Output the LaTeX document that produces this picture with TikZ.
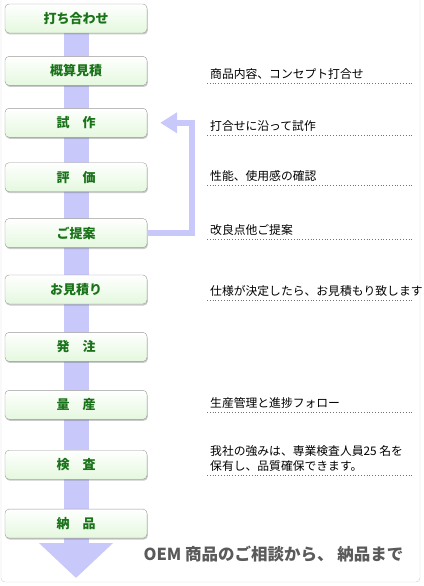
\documentclass[tikz,border=0pt]{standalone}
\usepackage{fontspec}
\newfontfamily\jp{Noto Sans CJK JP}
\usetikzlibrary{arrows.meta, positioning, shadows, backgrounds}

\definecolor{boxgreen}{RGB}{25,115,25}
\definecolor{boxfoot}{RGB}{228,248,222}
\definecolor{flowblue}{RGB}{200,200,250}
\definecolor{framegray}{RGB}{205,205,205}
\definecolor{titlegray}{RGB}{90,90,90}

\begin{document}
\begin{tikzpicture}[
    x=1pt, y=1pt,
    node distance=25pt,
    box/.style={rectangle, draw=black!40, rounded corners=4pt, minimum width=142pt, minimum height=29pt,
        top color=white, middle color=white, bottom color=boxfoot, text=boxgreen,
        font=\jp\bfseries\fontsize{13}{15}\selectfont,
        drop shadow={shadow xshift=0.8pt, shadow yshift=-1.5pt, opacity=0.35, fill=black!60}},
    note/.style={anchor=south west, inner xsep=3pt, inner ysep=3pt, align=left,
        font=\jp\fontsize{11.8}{15}\selectfont},
    dotline/.style={draw=black!55, dotted, line width=0.8pt},
    flow/.style={draw=flowblue, line width=25pt, -{Triangle[length=35pt, width=72pt]}},
    back/.style={draw=flowblue, line width=5.5pt, -{Triangle[length=17pt, width=20pt]}}
]
    \useasboundingbox (0,0) rectangle (423,-586);
    \draw[framegray, rounded corners=4pt] (1,0) -- (1,-582) -- (420,-582) -- (420,0);

    % flow of steps
    \node [box] at (76,-18.5) (uchiawase) {打ち合わせ};
    \node [box, below=23pt of uchiawase] (gaisan) {概算見積};
    \node [box, below=22.5pt of gaisan] (shisaku) {試　作};
    \node [box, below=25pt of shisaku] (hyouka) {評　価};
    \node [box, below=26.5pt of hyouka] (teian) {ご提案};
    \node [box, below=27pt of teian] (mitsumori) {お見積り};
    \node [box, below=28pt of mitsumori] (hacchu) {発　注};
    \node [box, below=28.5pt of hacchu] (ryousan) {量　産};
    \node [box, below=30.5pt of ryousan] (kensa) {検　査};
    \node [box, below=29.5pt of kensa] (nouhin) {納　品};
    \coordinate (goal) at (76,-578);

    \begin{scope}[on background layer]
        \path [flow] (uchiawase.center) -- (goal);
    \end{scope}
    \path [back] (teian.east) -| ([xshift=45pt]shisaku.east) -- ([xshift=13pt]shisaku.east);

    % notes on the right
    \node [note] at (207,-83) (n1) {商品内容、コンセプト打合せ};
    \node [note] at (207,-135) (n2) {打合せに沿って試作};
    \node [note] at (207,-185) (n3) {性能、使用感の確認};
    \node [note] at (207,-239) (n4) {改良点他ご提案};
    \node [note] at (207,-300) (n5) {仕様が決定したら、お見積もり致します};
    \node [note] at (207,-412) (n6) {生産管理と進捗フォロー};
    \node [note] at (207,-475) (n7) {我社の強みは、専業検査人員25 名を\\保有し、品質確保できます。};
    \path [dotline] (n1.south west) -- ++(206,0);
    \path [dotline] (n2.south west) -- ++(206,0);
    \path [dotline] (n3.south west) -- ++(206,0);
    \path [dotline] (n4.south west) -- ++(206,0);
    \path [dotline] (n5.south west) -- ++(206,0);
    \path [dotline] (n6.south west) -- ++(206,0);
    \path [dotline] (n7.south west) -- ++(206,0);

    \node [anchor=west, text=titlegray, font=\jp\bfseries\fontsize{16.5}{19}\selectfont] at (140,-554) (title) {OEM 商品のご相談から、 納品まで};
\end{tikzpicture}
\end{document}
